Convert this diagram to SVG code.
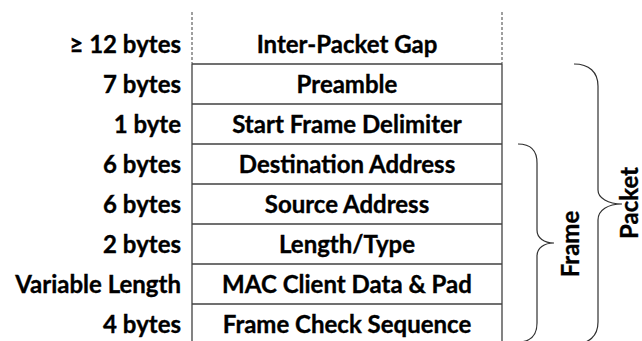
<svg xmlns="http://www.w3.org/2000/svg" width="642" height="341" viewBox="0 0 642 341">
<style>
text{font-family:Lato,"Open Sans","Liberation Sans",sans-serif;font-weight:bold;font-size:24px;fill:#000;stroke:#000;stroke-width:0.35}
.c{text-anchor:middle}
.r{text-anchor:end}
.ln{stroke:#404040;stroke-width:1.3;fill:none}
.dash{stroke:#606060;stroke-width:1.2;stroke-dasharray:3 2;fill:none}
.br{stroke:#303030;stroke-width:1.2;fill:none}
</style>
<rect width="642" height="341" fill="#fff"/>
<g id="frame-lines">
<line class="dash" x1="192" y1="12" x2="192" y2="64"/>
<line class="dash" x1="502" y1="12" x2="502" y2="64"/>
<line class="ln" x1="192" y1="64" x2="192" y2="341"/>
<line class="ln" x1="502" y1="64" x2="502" y2="341"/>
</g>
<g id="row-ipg"><text class="c" x="347" y="53">Inter-Packet Gap</text><text class="r" x="181" y="53">≥ 12 bytes</text></g>
<g id="row-preamble"><line class="ln" x1="192" y1="64" x2="502" y2="64"/><text class="c" x="347" y="93">Preamble</text><text class="r" x="181" y="93">7 bytes</text></g>
<g id="row-sfd"><line class="ln" x1="192" y1="104" x2="502" y2="104"/><text class="c" x="347" y="133">Start Frame Delimiter</text><text class="r" x="181" y="133">1 byte</text></g>
<g id="row-da"><line class="ln" x1="192" y1="144" x2="502" y2="144"/><text class="c" x="347" y="173">Destination Address</text><text class="r" x="181" y="173">6 bytes</text></g>
<g id="row-sa"><line class="ln" x1="192" y1="184" x2="502" y2="184"/><text class="c" x="347" y="213">Source Address</text><text class="r" x="181" y="213">6 bytes</text></g>
<g id="row-lt"><line class="ln" x1="192" y1="224" x2="502" y2="224"/><text class="c" x="347" y="253">Length/Type</text><text class="r" x="181" y="253">2 bytes</text></g>
<g id="row-data"><line class="ln" x1="192" y1="264" x2="502" y2="264"/><text class="c" x="347" y="293">MAC Client Data &amp; Pad</text><text class="r" x="181" y="293">Variable Length</text></g>
<g id="row-fcs"><line class="ln" x1="192" y1="304" x2="502" y2="304"/><text class="c" x="347" y="333">Frame Check Sequence</text><text class="r" x="181" y="333">4 bytes</text></g>
<g id="connectors">
<path class="br" d="M518,144 C530,144 537,150 537,163 L537,230 C537,238 544,243 554,243 C544,243 537,248 537,256 L537,323 C537,336 530,342 518,342"/>
<path class="br" d="M574,64 C589,64 598,72 598,86 L598,190 C598,198 608,204 622,204 C608,204 598,210 598,220 L598,322 C598,336 589,344 574,344"/>
</g>
<g id="label-frame"><text class="c" transform="translate(579,244) rotate(-90)">Frame</text></g>
<g id="label-packet"><text class="c" transform="translate(638,203) rotate(-90)">Packet</text></g>
</svg>
